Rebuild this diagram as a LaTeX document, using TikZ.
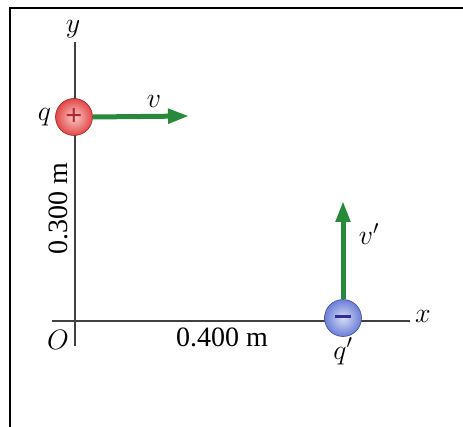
\RequirePackage{fix-cm}
\documentclass[tikz,border=0pt]{standalone}
\usepackage{fontspec}
\setmainfont{Liberation Serif}
\usetikzlibrary{arrows.meta,positioning}
\definecolor{velgreen}{RGB}{38,138,58}
\definecolor{chargered}{RGB}{225,50,50}
\definecolor{chargeblue}{RGB}{92,112,212}
\definecolor{minusblue}{RGB}{50,45,150}

\begin{document}
\begin{tikzpicture}[x=1pt,y=-1pt,
        axis/.style={draw=black!75, line width=1.3pt},
        velocity/.style={draw=velgreen, line width=5pt, -{Triangle[length=21pt,width=14pt]}},
        charge/.style={circle, minimum size=37pt, inner sep=0pt, draw=#1!70!black, line width=0.6pt, inner color=#1!25!white, outer color=#1!90},
        lbl/.style={font=\fontsize{28}{30}\selectfont, inner sep=1pt}]
    \useasboundingbox (0,0) rectangle (463,427);
    % frame
    \draw[line width=2.6pt] (10,427) -- (10,8) -- (463,8);
    % axes
    \coordinate (ytop) at (75,42);
    \coordinate (ybot) at (75,346);
    \coordinate (xleft) at (52,321);
    \coordinate (xright) at (410,321);
    \draw[axis] (ytop) -- (ybot);
    \draw[axis] (xleft) -- (xright);
    \node[lbl] (ylabel) at (73,29) {$y$};
    \node[lbl] (xlabel) at (423,316) {$x$};
    \node[lbl] (origin) at (58,340) {$O$};
    % charges
    \node[charge=chargered] (q) at (74,117) {\color{chargered!80!black}\fontsize{30}{30}\selectfont\bfseries +};
    \node[charge=chargeblue] (qp) at (343,318) {\color{minusblue}\rule[0.5ex]{16pt}{3pt}};
    \node[lbl, left=3pt of q] (qlabel) {$q$};
    \node[lbl, below=0pt of qp] (qplabel) {$q'$};
    % velocities
    \coordinate (vtip) at (189,116);
    \coordinate (vptip) at (343,201);
    \draw[velocity] (q.east) -- (vtip);
    \draw[velocity] (qp.north) -- (vptip);
    \node[lbl] (vlabel) at (154,101) {$v$};
    \node[lbl] (vplabel) at (369,234) {$v'$};
    % distances
    \node[lbl, rotate=90] (dy) at (58,209) {0.300 m};
    \node[lbl] (dx) at (222,337) {0.400 m};
\end{tikzpicture}
\end{document}
